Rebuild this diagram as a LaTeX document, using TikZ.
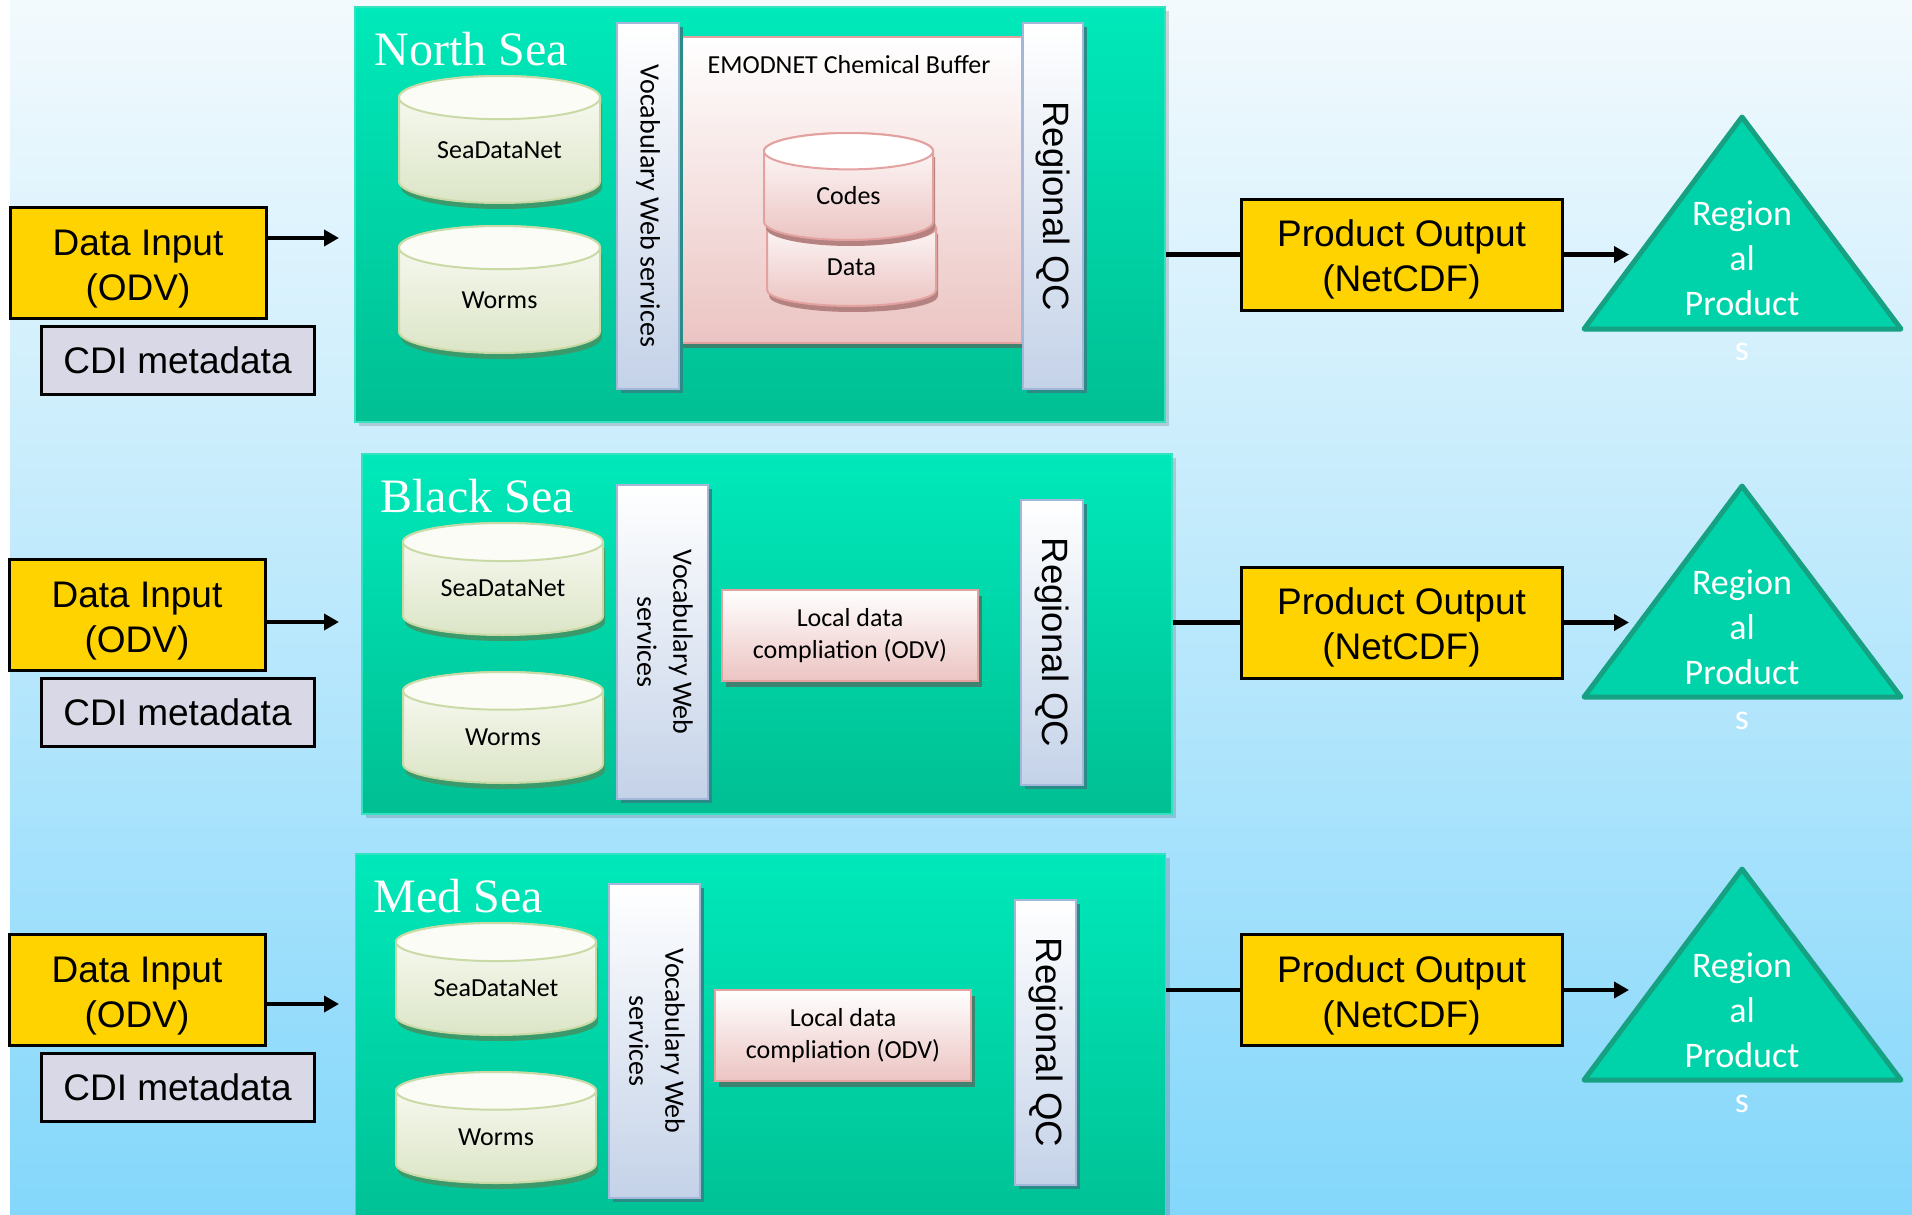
\documentclass[tikz,border=0pt]{standalone}
\usepackage{fontspec}
\setmainfont{Carlito}
\newfontfamily\arialfont{Liberation Sans}
\newfontfamily\romanfont{Liberation Serif}
\usetikzlibrary{shapes.geometric, arrows.meta, positioning, shadows}

\definecolor{bgtop}{HTML}{F3FAFD}
\definecolor{bgbot}{HTML}{84D7FB}
\definecolor{paneltop}{HTML}{00E9BA}
\definecolor{panelbot}{HTML}{00BF93}
\definecolor{panelline}{HTML}{33E3C0}
\definecolor{inyellow}{HTML}{FFD300}
\definecolor{cdigray}{HTML}{D8D8E6}
\definecolor{barbot}{HTML}{C4D2E8}
\definecolor{barline}{HTML}{A3B7DA}
\definecolor{barshadow}{HTML}{2A8C86}
\definecolor{pinkbot}{HTML}{EBC4C2}
\definecolor{pinkline}{HTML}{E3A2A0}
\definecolor{boxshadow}{HTML}{3F8270}
\definecolor{codeshadow}{HTML}{B48281}
\definecolor{greentop}{HTML}{FBFCF6}
\definecolor{greenbot}{HTML}{DCE5C7}
\definecolor{greenline}{HTML}{CADAA6}
\definecolor{greenshadow}{HTML}{3A9A6C}
\definecolor{trifill}{HTML}{00D2A9}
\definecolor{triline}{HTML}{16A182}

\tikzstyle{inbox} = [rectangle, draw=black, line width=1.5pt, fill=inyellow, align=center, minimum width=128pt, minimum height=55.5pt, inner sep=0pt, font=\arialfont\fontsize{18.5}{22.5}\selectfont, execute at begin node={\rule{0pt}{41pt}}]
\tikzstyle{cdibox} = [rectangle, draw=black, line width=1.5pt, fill=cdigray, minimum width=136.5pt, minimum height=34pt, inner sep=0pt, font=\arialfont\fontsize{18.5}{22.5}\selectfont]
\tikzstyle{outbox} = [inbox, minimum width=160.5pt]
\tikzstyle{seapanel} = [rectangle, draw=panelline, line width=0.75pt, top color=paneltop, bottom color=panelbot, minimum width=405pt, inner sep=0pt, drop shadow={shadow xshift=2pt, shadow yshift=-2pt, fill=black, opacity=0.15}]
\tikzstyle{seatitle} = [anchor=base west, text=white, inner sep=0pt, font=\romanfont\fontsize{24}{28}\selectfont]
\tikzstyle{wsbar} = [rectangle, draw=barline, line width=1pt, top color=white, bottom color=barbot, inner sep=0pt, font=\fontsize{14}{18}\selectfont, drop shadow={shadow xshift=2pt, shadow yshift=-2pt, fill=barshadow, opacity=1}]
\tikzstyle{qcbar} = [wsbar, font=\arialfont\fontsize{18.3}{22}\selectfont]
\tikzstyle{buffer} = [rectangle, draw=pinkline, line width=1pt, top color=white, bottom color=pinkbot, minimum width=171.5pt, minimum height=153pt, inner sep=0pt, drop shadow={shadow xshift=0pt, shadow yshift=-2.5pt, fill=boxshadow, opacity=1}]
\tikzstyle{localbox} = [rectangle, draw=pinkline, line width=1pt, top color=white, bottom color=pinkbot, align=center, minimum width=128pt, minimum height=45.5pt, inner sep=0pt, font=\fontsize{13}{16}\selectfont, drop shadow={shadow xshift=2pt, shadow yshift=-3pt, fill=boxshadow, opacity=1}]
\tikzstyle{dbtext} = [inner sep=0pt, font=\fontsize{13}{16}\selectfont]
\tikzstyle{arrow} = [line width=2.25pt, -{Triangle[length=7.5pt, width=8pt]}]
\tikzstyle{link} = [line width=2.25pt]
\tikzstyle{product} = [draw=triline, line width=2.5pt, fill=trifill, line join=round]
\tikzstyle{prodtext} = [text=white, align=center, inner sep=0pt, font=\fontsize{18}{22.5}\selectfont]

\tikzset{
  greendb body/.style={draw=greenline, line width=1pt, top color=greentop, bottom color=greenbot},
  greendb top/.style={draw=greenline, line width=1pt, fill=greentop},
  greendb shadow/.style={fill=greenshadow},
  pinkdb body/.style={draw=pinkline, line width=1pt, top color=white, bottom color=pinkbot},
  pinkdb top/.style={draw=pinkline, line width=1pt, fill=white},
  pinkdb shadow/.style={fill=codeshadow}
}

% database drum: style, name, left, top, right, bottom, text
\newcommand{\drum}[7]{%
  \pgfmathsetmacro{\drx}{(#5-#3)/2}%
  \pgfmathsetmacro{\dcx}{(#5+#3)/2}%
  \pgfmathsetmacro{\dry}{0.17*(#6-#4)}%
  \fill[#1 shadow, shift={(2,6)}] (#3,{#4+\dry}) -- (#3,{#6-\dry}) arc[start angle=180, end angle=0, x radius=\drx, y radius=\dry] -- (#5,{#4+\dry}) -- cycle;
  \path[#1 body] (#3,{#4+\dry}) -- (#3,{#6-\dry}) arc[start angle=180, end angle=0, x radius=\drx, y radius=\dry] -- (#5,{#4+\dry}) arc[start angle=0, end angle=-180, x radius=\drx, y radius=\dry] -- cycle;
  \path[#1 top] (\dcx,{#4+\dry}) ellipse[x radius=\drx, y radius=\dry];
  \node (#2) [dbtext] at (\dcx,{(#4+#6)/2+0.5*\dry}) {#7};
}

\begin{document}
\begin{tikzpicture}[x=0.5pt, y=-0.5pt]
\useasboundingbox (0,0) rectangle (1912,1215);
\fill[white] (0,0) rectangle (1912,1215);
\shade[top color=bgtop, bottom color=bgbot] (10,0) rectangle (1912,1215);

% North Sea
\node (north) [seapanel, minimum height=207.5pt] at (760,214.5) {};
\node (northtitle) [seatitle] at (374,65) {North Sea};
\node (buf) [buffer] at (850.5,190) {};
\node (buftitle) [dbtext] at (849,65) {EMODNET Chemical Buffer};
\drum{pinkdb}{data}{767}{212}{936}{306}{Data}
\drum{pinkdb}{codes}{764}{133}{933}{240}{Codes}
\node (vocab1) [wsbar, minimum width=31pt, minimum height=183pt] at (648,206) {\rotatebox{-90}{Vocabulary Web services}};
\node (qc1) [qcbar, minimum width=30pt, minimum height=183pt] at (1053,206) {\rotatebox{-90}{Regional QC}};
\drum{greendb}{sdn1}{399}{76}{600}{203}{SeaDataNet}
\drum{greendb}{worms1}{399}{226}{600}{353}{Worms}

% Black Sea
\node (black) [seapanel, minimum height=180pt] at (767,634) {};
\node (blacktitle) [seatitle] at (380,512) {Black Sea};
\node (vocab2) [wsbar, minimum width=45.5pt, minimum height=157pt] at (662.5,642) {\rotatebox{-90}{\begin{tabular}{@{}c@{}}Vocabulary Web\\services\end{tabular}}};
\node (qc2) [qcbar, minimum width=31pt, minimum height=142.5pt] at (1052,642.5) {\rotatebox{-90}{Regional QC}};
\node (local2) [localbox] at (850,635.5) {Local data\\compliation (ODV)};
\drum{greendb}{sdn2}{403}{523}{603}{635}{SeaDataNet}
\drum{greendb}{worms2}{403}{672}{603}{783}{Worms}

% Med Sea
\node (med) [seapanel, minimum height=193pt] at (760.5,1047) {};
\node (medtitle) [seatitle] at (373,912) {Med Sea};
\node (vocab3) [wsbar, minimum width=45.5pt, minimum height=157pt] at (654.5,1041) {\rotatebox{-90}{\begin{tabular}{@{}c@{}}Vocabulary Web\\services\end{tabular}}};
\node (qc3) [qcbar, minimum width=30.5pt, minimum height=142.5pt] at (1045.5,1042.5) {\rotatebox{-90}{Regional QC}};
\node (local3) [localbox] at (843,1035.5) {Local data\\compliation (ODV)};
\drum{greendb}{sdn3}{396}{923}{596}{1035}{SeaDataNet}
\drum{greendb}{worms3}{396}{1072}{596}{1183}{Worms}

% inputs
\node (din1) [inbox] at (138,263) {Data Input\\(ODV)};
\node (din2) [inbox] at (137,615) {Data Input\\(ODV)};
\node (din3) [inbox] at (137,990) {Data Input\\(ODV)};
\node (cdi1) [cdibox] at (177.5,360) {CDI metadata};
\node (cdi2) [cdibox] at (177.5,712) {CDI metadata};
\node (cdi3) [cdibox] at (177.5,1087) {CDI metadata};
\coordinate (in1) at (339,238);
\coordinate (in2) at (339,622);
\coordinate (in3) at (339,1004);
\draw [arrow] (din1.east |- in1) -- (in1);
\draw [arrow] (din2.east |- in2) -- (in2);
\draw [arrow] (din3.east |- in3) -- (in3);

% outputs
\node (out1) [outbox] at (1401.5,254.5) {Product Output\\(NetCDF)};
\node (out2) [outbox] at (1401.5,622.5) {Product Output\\(NetCDF)};
\node (out3) [outbox] at (1401.5,990) {Product Output\\(NetCDF)};
\draw [link] (north.east |- out1) -- (out1.west);
\draw [link] (black.east |- out2) -- (out2.west);
\draw [link] (med.east |- out3) -- (out3.west);

% regional products
\filldraw [product] (1742,117) -- (1901,329) -- (1584,329) -- cycle;
\filldraw [product] (1742,486) -- (1901,697) -- (1584,697) -- cycle;
\filldraw [product] (1742,869) -- (1901,1080) -- (1584,1080) -- cycle;
\node (rp1) [prodtext] at (1742,280.5) {Region\\al\\Product\\s};
\node (rp2) [prodtext] at (1742,649.5) {Region\\al\\Product\\s};
\node (rp3) [prodtext] at (1742,1032.5) {Region\\al\\Product\\s};
\coordinate (tipcol) at (1629,0);
\draw [arrow] (out1.east) -- (out1.east -| tipcol);
\draw [arrow] (out2.east) -- (out2.east -| tipcol);
\draw [arrow] (out3.east) -- (out3.east -| tipcol);
\end{tikzpicture}
\end{document}
